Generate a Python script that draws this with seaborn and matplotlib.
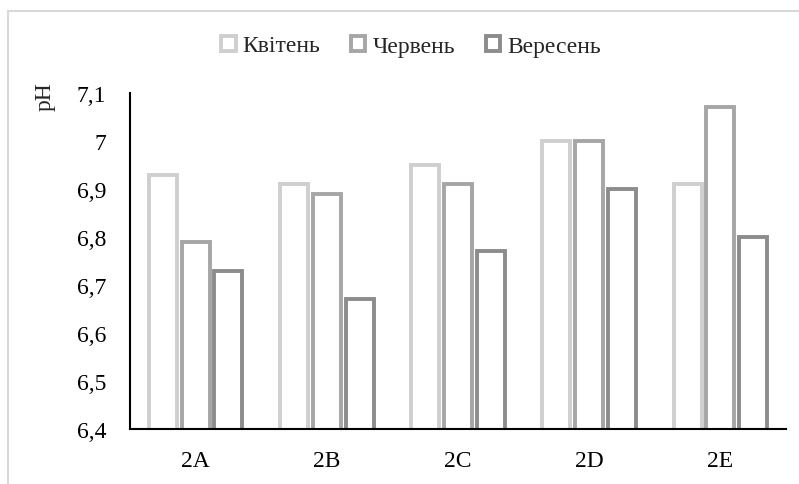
import matplotlib
matplotlib.use('Agg')
import matplotlib.pyplot as plt
import matplotlib.ticker as mticker
from matplotlib.patches import Rectangle
import pandas as pd
import seaborn as sns

# Data
sites = ["2A", "2B", "2C", "2D", "2E"]
months = ["Квітень", "Червень", "Вересень"]
april = [6.93, 6.91, 6.95, 7.00, 6.91]
june = [6.79, 6.89, 6.91, 7.00, 7.07]
september = [6.73, 6.67, 6.77, 6.90, 6.80]
colors = ["#cfcfcf", "#a6a6a6", "#8c8c8c"]

df = pd.DataFrame({
    "site": sites * 3,
    "month": [m for m in months for _ in sites],
    "ph": april + june + september,
})

sns.set_style("white")
plt.rcParams['font.family'] = ['Liberation Serif', 'DejaVu Serif']
FS = 17

fig = plt.figure(figsize=(7.99, 4.85), dpi=100)
ax = fig.add_axes([0.1627, 0.1134, 0.821, 0.693])

sns.barplot(data=df, x="site", y="ph", hue="month", hue_order=months,
            palette=colors, fill=False, width=0.75, gap=0.15,
            linewidth=2.8, ax=ax, legend=True)

ax.set_ylim(6.4, 7.1)
ax.set_yticks([6.4, 6.5, 6.6, 6.7, 6.8, 6.9, 7.0, 7.1])
ax.yaxis.set_major_formatter(mticker.FuncFormatter(
    lambda v, p: f"{v:.1f}".rstrip("0").rstrip(".").replace(".", ",")))
ax.set_xlim(-0.5, 4.5)
ax.tick_params(axis='both', length=0, labelsize=FS, colors='black')
ax.tick_params(axis='x', pad=15)
ax.tick_params(axis='y', pad=17)
ax.set_xlabel("")
ax.set_ylabel("")
for s in ["top", "right"]:
    ax.spines[s].set_visible(False)
for s in ["left", "bottom"]:
    ax.spines[s].set_color("black")
    ax.spines[s].set_linewidth(1.5)

fig.text(45 / 799, 1 - 97 / 485, "pH", rotation=90, ha='center', va='center', fontsize=FS)

handles, labels = ax.get_legend_handles_labels()
ax.get_legend().remove()
fig.legend(handles, labels, loc='center', bbox_to_anchor=(411 / 799, 1 - 47 / 485),
           ncol=3, frameon=False, fontsize=FS, handlelength=0.6, handleheight=0.6,
           handletextpad=0.3, columnspacing=1.3)

fig.patches.append(Rectangle((8 / 799, -0.1), 1.2, 1 - 12 / 485 + 0.1,
                             transform=fig.transFigure, fill=False,
                             edgecolor="#d9d9d9", linewidth=1.5))

fig.savefig("out.png", dpi=100)
